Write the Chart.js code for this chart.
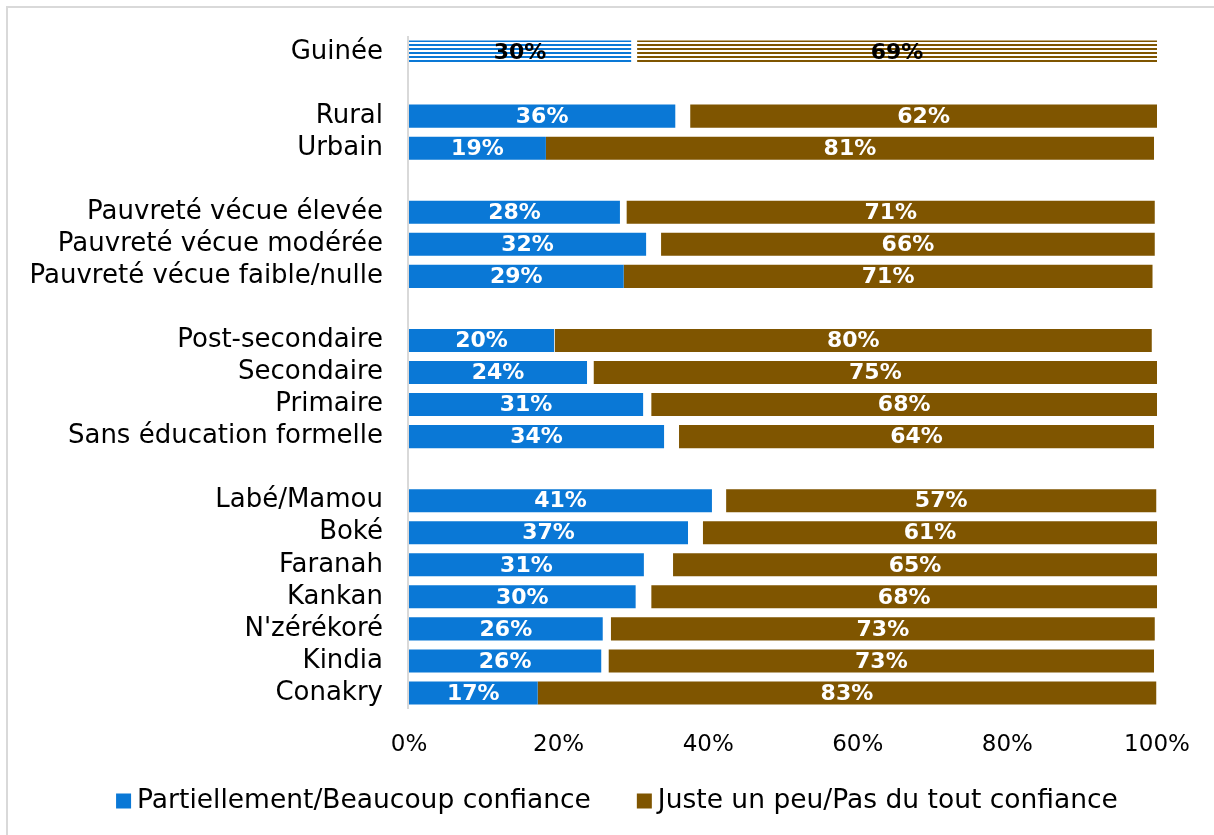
<!DOCTYPE html>
<html>
<head>
<meta charset="utf-8">
<script src="https://cdn.jsdelivr.net/npm/chart.js@4.4.1/dist/chart.umd.min.js"></script>
<style>
html,body{margin:0;padding:0;background:#fff;overflow:hidden;}
canvas{display:block;}
</style>
</head>
<body>
<canvas id="c" width="1214" height="835"></canvas>
<script>
// Categories (blank strings are spacer rows)
const categories = ['Guinée','','Rural','Urbain','','Pauvreté vécue élevée','Pauvreté vécue modérée','Pauvreté vécue faible/nulle','','Post-secondaire','Secondaire','Primaire','Sans éducation formelle','','Labé/Mamou','Boké','Faranah','Kankan',"N'zérékoré",'Kindia','Conakry'];
// Bar lengths (%)
const confianceVals = [29.7,null,35.6,18.3,null,28.2,31.7,28.7,null,19.4,23.8,31.3,34.1,null,40.5,37.3,31.4,30.3,25.9,25.7,17.2];
const gapVals       = [0.8,null,2.0,0,null,0.9,2.0,0,null,0.1,0.9,1.1,2.0,null,1.9,2.0,3.9,2.1,1.1,1.0,0];
const pasConfVals   = [69.5,null,62.4,81.3,null,70.6,66.0,70.7,null,79.8,75.3,67.6,63.5,null,57.5,60.7,64.7,67.6,72.7,72.9,82.7];
// Printed labels
const confianceLabels = [30,null,36,19,null,28,32,29,null,20,24,31,34,null,41,37,31,30,26,26,17];
const pasConfLabels   = [69,null,62,81,null,71,66,71,null,80,75,68,64,null,57,61,65,68,73,73,83];
const xTicks = [0,20,40,60,80,100];
const seriesNames = ['Partiellement/Beaucoup confiance','Juste un peu/Pas du tout confiance'];

const BLUE = '#0A78D6', BROWN = '#7F5500';
const FONT = 'DejaVu Sans';

function stripes(color){
  const c = document.createElement('canvas'); c.width = 4; c.height = 4;
  const x = c.getContext('2d');
  x.fillStyle = '#fff'; x.fillRect(0,0,4,4);
  x.fillStyle = color; x.fillRect(0,0,4,2);
  return x.createPattern(c,'repeat');
}
const blueColors = categories.map((c,i)=> i===0 ? stripes(BLUE) : BLUE);
const brownColors = categories.map((c,i)=> i===0 ? stripes(BROWN) : BROWN);

const bgPlugin = {
  id:'bg',
  beforeDraw(chart){
    const ctx = chart.ctx;
    ctx.save();
    ctx.fillStyle='#fff'; ctx.fillRect(0,0,chart.width,chart.height);
    ctx.strokeStyle='#d9d9d9'; ctx.lineWidth=2;
    ctx.beginPath();
    ctx.moveTo(7,chart.height+5); ctx.lineTo(7,7); ctx.lineTo(chart.width+5,7);
    ctx.stroke();
    ctx.restore();
  },
  beforeDatasetsDraw(chart){
    const ctx = chart.ctx, a = chart.chartArea;
    ctx.save();
    ctx.strokeStyle='#d9d9d9'; ctx.lineWidth=2;
    ctx.beginPath(); ctx.moveTo(a.left-1,a.top); ctx.lineTo(a.left-1,a.bottom); ctx.stroke();
    ctx.restore();
  }
};

const labelPlugin = {
  id:'vlabels',
  afterDatasetsDraw(chart){
    const ctx = chart.ctx;
    ctx.save();
    ctx.font = 'bold 22px "'+FONT+'"';
    ctx.textAlign='center'; ctx.textBaseline='middle';
    [[0,confianceLabels],[2,pasConfLabels]].forEach(([di,labs])=>{
      const meta = chart.getDatasetMeta(di);
      meta.data.forEach((el,i)=>{
        if(labs[i]==null) return;
        const p = el.getProps(['x','y','base'],true);
        ctx.fillStyle = i===0 ? '#000' : '#fff';
        ctx.fillText(labs[i]+'%', (p.x+p.base)/2, p.y+1);
      });
    });
    ctx.restore();
  }
};

const legendPlugin = {
  id:'customLegend',
  afterDraw(chart){
    const ctx = chart.ctx;
    const items = [0,2].map(di=>({text:chart.data.datasets[di].label, color: di===0?BLUE:BROWN}));
    ctx.save();
    ctx.font = '26.5px "'+FONT+'"';
    ctx.textBaseline='middle'; ctx.textAlign='left';
    const box=15, gap=6, spacing=46, y=801;
    const widths = items.map(it=>box+gap+ctx.measureText(it.text).width);
    const total = widths.reduce((a,b)=>a+b,0)+spacing*(items.length-1);
    let x = (chart.width-total)/2 + 10;
    items.forEach((it,i)=>{
      ctx.fillStyle = it.color; ctx.fillRect(x, y-box/2, box, box);
      ctx.fillStyle = '#000'; ctx.fillText(it.text, x+box+gap, y);
      x += widths[i]+spacing;
    });
    ctx.restore();
  }
};

new Chart(document.getElementById('c'), {
  type:'bar',
  data:{
    labels: categories,
    datasets:[
      {label:seriesNames[0], data:confianceVals, backgroundColor:blueColors, borderWidth:0},
      {label:'gap', data:gapVals, backgroundColor:'rgba(0,0,0,0)', borderWidth:0},
      {label:seriesNames[1], data:pasConfVals, backgroundColor:brownColors, borderWidth:0}
    ]
  },
  options:{
    responsive:false,
    animation:false,
    indexAxis:'y',
    layout:{padding:{top:36,right:57,left:0,bottom:70}},
    datasets:{bar:{categoryPercentage:1, barPercentage:0.72}},
    scales:{
      x:{
        stacked:true, min:0, max:100,
        afterBuildTicks(s){ s.ticks = xTicks.map(v=>({value:v})); },
        afterFit(s){ s.height = 56; s.paddingLeft = 0; s.paddingRight = 0; },
        grid:{display:false, drawTicks:false},
        border:{display:false},
        ticks:{padding:22, color:'#000', font:{family:FONT,size:23}, callback:v=>v+'%'}
      },
      y:{
        stacked:true,
        afterFit(s){ s.width = 409; s.paddingTop = 0; s.paddingBottom = 0; },
        grid:{display:false, drawTicks:false},
        border:{display:false},
        ticks:{padding:26, color:'#000', autoSkip:false, font:{family:FONT,size:26}}
      }
    },
    plugins:{
      legend:{display:false},
      tooltip:{enabled:false}
    }
  },
  plugins:[bgPlugin,labelPlugin,legendPlugin]
});
</script>
</body>
</html>
